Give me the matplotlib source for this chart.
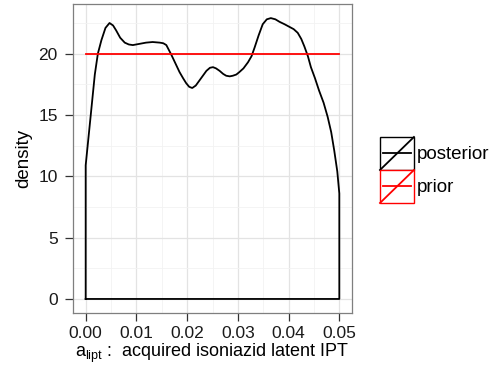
import matplotlib
matplotlib.use("Agg")
import matplotlib.pyplot as plt
from matplotlib.legend_handler import HandlerBase
from matplotlib.patches import Rectangle
from matplotlib.lines import Line2D
from matplotlib.ticker import MultipleLocator

plt.rcParams['font.family'] = ['Liberation Sans', 'DejaVu Sans']
plt.rcParams['mathtext.fontset'] = 'custom'
plt.rcParams['mathtext.rm'] = 'Liberation Sans'
plt.rcParams['mathtext.it'] = 'Liberation Sans'

# Posterior density estimate of a_lipt
post_x = [0.0, 0.0010, 0.0018, 0.0024, 0.0031, 0.0039, 0.0047, 0.0054, 0.0060, 0.0068,
          0.0077, 0.0085, 0.0093, 0.0106, 0.0119, 0.0132, 0.0146, 0.0153, 0.0159, 0.0169,
          0.0177, 0.0185, 0.0192, 0.0198, 0.0204, 0.0210, 0.0217, 0.0224, 0.0231, 0.0238,
          0.0245, 0.0251, 0.0257, 0.0264, 0.0271, 0.0277, 0.0284, 0.0290, 0.0297, 0.0303,
          0.0311, 0.0320, 0.0327, 0.0333, 0.0341, 0.0349, 0.0357, 0.0365, 0.0374, 0.0382,
          0.0392, 0.0401, 0.0410, 0.0418, 0.0425, 0.0431, 0.0438, 0.0444, 0.0452, 0.0460,
          0.0469, 0.0477, 0.0484, 0.0490, 0.0496, 0.0500]
post_y = [10.9, 15.0, 18.3, 20.0, 21.1, 22.1, 22.5, 22.3, 21.9, 21.3,
          20.9, 20.75, 20.7, 20.8, 20.9, 20.95, 20.9, 20.85, 20.7, 19.9,
          19.2, 18.5, 18.0, 17.6, 17.3, 17.2, 17.4, 17.8, 18.2, 18.6,
          18.85, 18.9, 18.8, 18.6, 18.35, 18.2, 18.15, 18.2, 18.3, 18.5,
          18.8, 19.3, 19.8, 20.5, 21.5, 22.4, 22.8, 22.9, 22.8, 22.6,
          22.4, 22.2, 22.0, 21.7, 21.2, 20.6, 19.8, 18.9, 18.0, 17.0,
          16.0, 14.85, 13.6, 12.1, 10.4, 8.6]

# Uniform prior on [0, 0.05]
prior_x = [0.0, 0.05]
prior_y = [20.0, 20.0]

series_names = ["posterior", "prior"]
series_colors = ["black", "red"]

x_ticks = [0.00, 0.01, 0.02, 0.03, 0.04, 0.05]
x_tick_labels = ["0.00", "0.01", "0.02", "0.03", "0.04", "0.05"]
y_ticks = [0, 5, 10, 15, 20]


class DensityKeyHandler(HandlerBase):
    def create_artists(self, legend, orig_handle, xdescent, ydescent,
                       width, height, fontsize, trans):
        c = orig_handle.get_color()
        x0, y0 = -xdescent, -ydescent
        box = Rectangle((x0, y0), width, height, facecolor='white',
                        edgecolor=c, lw=1.0, transform=trans)
        diag = Line2D([x0, x0 + width], [y0, y0 + height], color=c,
                      lw=1.3, transform=trans)
        mid = Line2D([x0 + 0.1 * width, x0 + 0.9 * width],
                     [y0 + height / 2, y0 + height / 2], color=c,
                     lw=1.3, transform=trans)
        return [box, diag, mid]


fig = plt.figure(figsize=(4.98, 3.78), dpi=100)
ax = fig.add_axes([73 / 498, 1 - 313 / 378, (352 - 73) / 498, (313 - 4) / 378])

# Closed density outline down to zero at both ends
poly_x = [post_x[0]] + post_x + [post_x[-1], post_x[0]]
poly_y = [0.0] + post_y + [0.0, 0.0]
ax.plot(poly_x, poly_y, color=series_colors[0], lw=1.3, zorder=3)
ax.plot(prior_x, prior_y, color=series_colors[1], lw=1.3, zorder=4)

ax.set_xlim(-0.0025, 0.0525)
ax.set_ylim(-1.145, 24.05)
ax.set_xticks(x_ticks)
ax.set_xticklabels(x_tick_labels)
ax.set_yticks(y_ticks)
ax.xaxis.set_minor_locator(MultipleLocator(0.005))
ax.yaxis.set_minor_locator(MultipleLocator(2.5))

ax.grid(which='major', color='#e3e3e3', lw=0.9, zorder=0)
ax.grid(which='minor', color='#f2f2f2', lw=0.6, zorder=0)
ax.set_axisbelow(True)
for s in ax.spines.values():
    s.set_color('#7f7f7f')
    s.set_linewidth(0.9)

ax.tick_params(which='major', direction='out', length=5.5, width=0.9,
               color='#333333', labelsize=12.5, labelcolor='#1a1a1a', pad=3.5)
ax.tick_params(axis='y', which='major', pad=5.5)
ax.tick_params(which='minor', length=0)

ax.set_ylabel("density", fontsize=13.5, labelpad=4)
ax.set_xlabel(r"$\mathregular{a_{lipt}}$ :  acquired isoniazid latent IPT",
              fontsize=13, labelpad=1)

handles = [Line2D([], [], color=c) for c in series_colors]
fig.legend(handles, series_names, handler_map={Line2D: DensityKeyHandler()},
           loc='upper left', bbox_to_anchor=(380 / 498, 1 - 137 / 378),
           frameon=False, fontsize=13.5, handlelength=1.81, handleheight=2.33,
           labelspacing=0.0, handletextpad=0.15, borderpad=0.0, borderaxespad=0.0)

fig.savefig("out.png", dpi=100)
